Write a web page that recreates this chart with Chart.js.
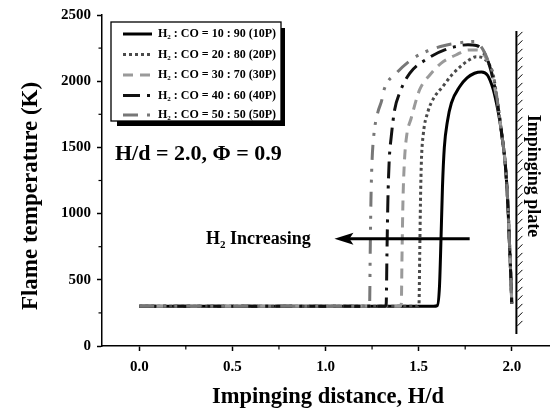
<!DOCTYPE html>
<html><head><meta charset="utf-8">
<script src="https://cdn.jsdelivr.net/npm/chart.js@4/dist/chart.umd.min.js"></script>
<style>html,body{margin:0;padding:0;background:#fff;}canvas{display:block;}</style>
</head><body>
<canvas id="c" width="551" height="415"></canvas>
<script>
// ---- data ----
const seriesLabels = ['H₂ : CO = 10 : 90 (10P)','H₂ : CO = 20 : 80 (20P)','H₂ : CO = 30 : 70 (30P)','H₂ : CO = 40 : 60 (40P)','H₂ : CO = 50 : 50 (50P)'];
const xTicks = [0, 0.5, 1.0, 1.5, 2.0];
const yTicks = [0, 500, 1000, 1500, 2000, 2500];
const xMinorTicks = [0.25, 0.75, 1.25, 1.75];
const yMinorTicks = [250, 750, 1250, 1750, 2250];

const x10 = [0, 1.58, 1.600, 1.612, 1.620, 1.628, 1.638, 1.655, 1.676, 1.72, 1.76, 1.80, 1.837, 1.87, 1.90, 1.92, 1.935, 1.95, 1.965, 1.978, 1.99, 1.997, 2.0];
const y10 = [300, 300, 305, 450, 800, 1200, 1500, 1700, 1835, 1958, 2025, 2060, 2070, 2045, 1940, 1820, 1707, 1560, 1380, 1100, 700, 450, 320];

const x20 = [0, 1.49, 1.502, 1.506, 1.51, 1.515, 1.525, 1.55, 1.58, 1.63, 1.68, 1.72, 1.77, 1.81, 1.845, 1.87, 1.90, 1.92, 1.935, 1.95, 1.965, 1.978, 1.99, 1.997, 2.0];
const y20 = [300, 300, 320, 700, 1100, 1400, 1600, 1770, 1870, 1960, 2050, 2105, 2160, 2185, 2175, 2145, 2050, 1880, 1725, 1560, 1380, 1100, 700, 450, 320];

const x30 = [0, 1.40, 1.407, 1.411, 1.416, 1.424, 1.436, 1.46, 1.505, 1.56, 1.62, 1.70, 1.77, 1.82, 1.86, 1.89, 1.915, 1.935, 1.95, 1.965, 1.978, 1.99, 1.997, 2.0];
const y30 = [300, 300, 320, 700, 1100, 1400, 1590, 1720, 1934, 2047, 2135, 2198, 2236, 2235, 2180, 2080, 1900, 1725, 1560, 1380, 1100, 700, 450, 320];

const x40 = [0, 1.32, 1.326, 1.330, 1.335, 1.342, 1.353, 1.371, 1.398, 1.452, 1.55, 1.64, 1.765, 1.81, 1.85, 1.88, 1.905, 1.92, 1.935, 1.95, 1.965, 1.978, 1.99, 1.997, 2.0];
const y40 = [300, 300, 320, 700, 1100, 1400, 1581, 1782, 1911, 2060, 2172, 2236, 2275, 2270, 2220, 2120, 1980, 1860, 1725, 1560, 1380, 1100, 700, 450, 320];

const x50 = [0, 1.23, 1.237, 1.240, 1.244, 1.25, 1.26, 1.28, 1.30, 1.317, 1.38, 1.47, 1.55, 1.64, 1.72, 1.80, 1.83, 1.855, 1.88, 1.90, 1.92, 1.935, 1.95, 1.965, 1.978, 1.99, 1.997, 2.0];
const y50 = [300, 300, 320, 700, 1100, 1400, 1600, 1760, 1845, 1946, 2060, 2172, 2230, 2270, 2290, 2300, 2270, 2213, 2130, 2050, 1880, 1725, 1560, 1380, 1100, 700, 450, 320];

// annotations (data coordinates)
const plateX = 2.025, plateYTop = 2380, plateYBottom = 90;
const arrowY = 810, arrowFromX = 1.774, arrowToX = 1.048;

const SERIF = '"Liberation Serif","Times New Roman",serif';
const styles = [
  {color:'#000000', dash:[]},
  {color:'#4a4a4a', dash:[3,3]},
  {color:'#9a9a9a', dash:[10,7]},
  {color:'#111111', dash:[17,7,3,7]},
  {color:'#777777', dash:[15,9,3,8,3,9]}
];
const xs = [x10,x20,x30,x40,x50], ys = [y10,y20,y30,y40,y50];
const datasets = xs.map((xa,i)=>({
  label: seriesLabels[i],
  data: xa.map((v,j)=>({x:v, y:ys[i][j]})),
  borderColor: styles[i].color,
  borderDash: styles[i].dash,
  borderWidth: 3,
  pointRadius: 0,
  fill: false,
  cubicInterpolationMode: 'monotone'
})).reverse();

function drawSubText(ctx, str, x, y, size) {
  // draws text where '₂' is rendered as a lowered small "2"
  ctx.textAlign = 'left';
  const parts = str.split('₂');
  let cx = x;
  parts.forEach((p, i) => {
    ctx.font = 'bold ' + size + 'px ' + SERIF;
    ctx.fillText(p, cx, y);
    cx += ctx.measureText(p).width;
    if (i < parts.length - 1) {
      const s = Math.round(size * 0.6);
      ctx.font = 'bold ' + s + 'px ' + SERIF;
      ctx.fillText('2', cx, y + size * 0.3);
      cx += ctx.measureText('2').width;
    }
  });
  return cx;
}

const deco = {
  id: 'deco',
  afterDraw(chart) {
    const {ctx, scales:{x, y}} = chart;
    ctx.save();
    ctx.fillStyle = '#000'; ctx.strokeStyle = '#000';
    // minor ticks
    ctx.lineWidth = 1.2;
    xMinorTicks.forEach(v => { const px = x.getPixelForValue(v); ctx.beginPath(); ctx.moveTo(px, y.bottom); ctx.lineTo(px, y.bottom + 3.5); ctx.stroke(); });
    yMinorTicks.forEach(v => { const py = y.getPixelForValue(v); ctx.beginPath(); ctx.moveTo(x.left, py); ctx.lineTo(x.left - 3.5, py); ctx.stroke(); });

    // axis titles
    ctx.textBaseline = 'middle';
    ctx.font = 'bold 22.5px ' + SERIF;
    ctx.textAlign = 'center';
    ctx.fillText('Impinging distance, H/d', 328, 397);
    ctx.save(); ctx.translate(31, 196); ctx.rotate(-Math.PI/2);
    ctx.font = 'bold 23px ' + SERIF;
    ctx.fillText('Flame temperature (K)', 0, 0); ctx.restore();

    // legend box with shadow
    const bx = 111, by = 22, bw = 170, bh = 99;
    ctx.fillStyle = '#000';
    ctx.fillRect(bx + 6, by + bh, bw - 2, 5);
    ctx.fillRect(bx + bw, by + 6, 4, bh - 1);
    ctx.fillStyle = '#fff'; ctx.fillRect(bx, by, bw, bh);
    ctx.lineWidth = 1.3; ctx.strokeRect(bx, by, bw, bh);
    const rows = [35, 55.5, 76, 96.5, 116];
    ctx.textBaseline = 'middle';
    seriesLabels.forEach((lab, i) => {
      const ry = rows[i] - 1;
      ctx.strokeStyle = styles[i].color; ctx.lineWidth = 3; ctx.setLineDash(styles[i].dash);
      ctx.beginPath(); ctx.moveTo(123, ry); ctx.lineTo(152, ry); ctx.stroke();
      ctx.setLineDash([]);
      ctx.fillStyle = '#000';
      drawSubText(ctx, lab, 158, ry, 12);
    });

    // condition text
    ctx.fillStyle = '#000';
    ctx.font = 'bold 22px ' + SERIF; ctx.textAlign = 'left';
    ctx.fillText('H/d = 2.0, Φ = 0.9', 115, 154);

    // arrow
    const ay = y.getPixelForValue(arrowY), ax1 = x.getPixelForValue(arrowFromX), ax2 = x.getPixelForValue(arrowToX);
    ctx.strokeStyle = '#000'; ctx.lineWidth = 3;
    ctx.beginPath(); ctx.moveTo(ax1, ay); ctx.lineTo(ax2 + 14, ay); ctx.stroke();
    ctx.beginPath(); ctx.moveTo(ax2, ay); ctx.lineTo(ax2 + 19, ay - 6); ctx.lineTo(ax2 + 15, ay); ctx.lineTo(ax2 + 19, ay + 6); ctx.closePath(); ctx.fill();
    drawSubText(ctx, 'H₂ Increasing', 206, ay + 1, 18);

    // impinging plate
    const plx = x.getPixelForValue(plateX), pt = y.getPixelForValue(plateYTop), pb = y.getPixelForValue(plateYBottom);
    ctx.lineWidth = 2;
    ctx.beginPath(); ctx.moveTo(plx, pt); ctx.lineTo(plx, pb); ctx.stroke();
    ctx.lineWidth = 1;
    for (let yy = pt + 6; yy <= pb; yy += 8.5) {
      ctx.beginPath(); ctx.moveTo(plx + 1, yy); ctx.lineTo(plx + 6, yy - 5); ctx.stroke();
    }
    ctx.save(); ctx.translate(533, 176); ctx.rotate(Math.PI/2);
    ctx.font = 'bold 18px ' + SERIF; ctx.textAlign = 'center'; ctx.textBaseline = 'middle';
    ctx.fillText('Impinging plate', 0, 0); ctx.restore();
    ctx.restore();
  }
};

new Chart(document.getElementById('c'), {
  type: 'line',
  data: { datasets },
  options: {
    responsive: false, animation: false, devicePixelRatio: 1,
    layout: { padding: { top: 15, right: 2, left: 0, bottom: 0 } },
    plugins: { legend: { display: false }, tooltip: { enabled: false } },
    scales: {
      x: {
        type: 'linear', min: -0.2, max: 2.2,
        afterBuildTicks: s => { s.ticks = xTicks.map(v => ({value: v})); },
        afterFit: s => { s.height = 69; },
        border: { display: true, color: '#000', width: 1.5 },
        grid: { drawOnChartArea: false, drawTicks: true, tickLength: 5, tickColor: '#000', tickWidth: 1.5 },
        ticks: { color: '#000', padding: 7, font: { family: SERIF, weight: 'bold', size: 15 }, callback: v => v.toFixed(1), maxRotation: 0 }
      },
      y: {
        type: 'linear', min: 0, max: 2500,
        afterBuildTicks: s => { s.ticks = yTicks.map(v => ({value: v})); },
        afterFit: s => { s.width = 102; },
        border: { display: true, color: '#000', width: 1.5 },
        grid: { drawOnChartArea: false, drawTicks: true, tickLength: 5, tickColor: '#000', tickWidth: 1.5 },
        ticks: { color: '#000', padding: 6, font: { family: SERIF, weight: 'bold', size: 15 }, callback: v => String(v) }
      }
    }
  },
  plugins: [deco]
});
</script>
</body></html>
